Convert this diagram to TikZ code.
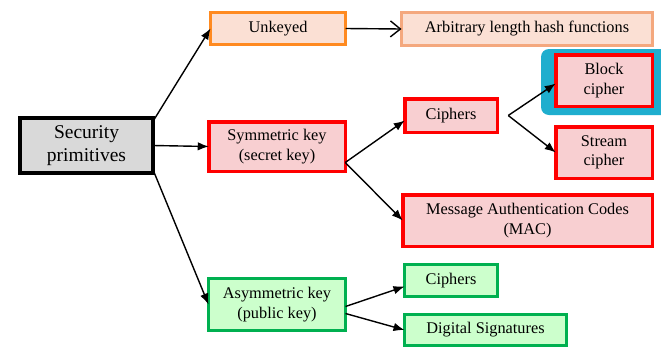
\documentclass[tikz,border=0pt]{standalone}
\usepackage{fontspec}
\setmainfont{Liberation Serif}
\usetikzlibrary{arrows.meta}
\definecolor{cgray}{RGB}{217,217,217}
\definecolor{corange}{RGB}{255,138,32}
\definecolor{corfill}{RGB}{251,224,212}
\definecolor{clorange}{RGB}{244,168,126}
\definecolor{cred}{RGB}{255,0,0}
\definecolor{credfill}{RGB}{248,207,209}
\definecolor{cgreen}{RGB}{0,176,80}
\definecolor{cgrfill}{RGB}{204,255,204}
\definecolor{cblue}{RGB}{31,174,206}
\begin{document}
\begin{tikzpicture}[x=1pt,y=-1pt,
  box/.style={rectangle,inner sep=0pt,outer sep=0pt,align=center,
    font=\rmfamily\fontsize{16.3}{19.5}\selectfont},
  rootbox/.style={box,draw=black,fill=cgray,line width=4pt,
    font=\rmfamily\fontsize{19.5}{23}\selectfont},
  orbox/.style={box,draw=corange,fill=corfill,line width=3pt},
  lorbox/.style={box,draw=clorange,fill=corfill,line width=3pt},
  redbox/.style={box,draw=cred,fill=credfill,line width=3.5pt},
  grbox/.style={box,draw=cgreen,fill=cgrfill,line width=3pt},
  arr/.style={line width=1.4pt,-{Latex[length=11pt,width=8.5pt]}},
  openarr/.style={line width=1.4pt,-{Straight Barb[length=10pt,width=16pt,line width=1.4pt]}}
]
\clip (0,0) rectangle (661,346);
\fill[white] (0,0) rectangle (661,346);
% blue highlight
\fill[cblue,rounded corners=8pt] (541,49) rectangle (675,115);

\node[rootbox,minimum width=133pt,minimum height=55pt] (sp) at (86.5,145.5) {Security\\primitives};
\node[orbox,minimum width=135pt,minimum height=32pt] (unk) at (278,28.5) {Unkeyed};
\node[lorbox,minimum width=251pt,minimum height=33pt] (arb) at (527,29) {Arbitrary length hash functions};
\node[redbox,minimum width=136.5pt,minimum height=49.5pt] (sym) at (277,146.5) {Symmetric key\\(secret key)};
\node[redbox,minimum width=92.5pt,minimum height=33.5pt] (ci) at (451,115.5) {Ciphers};
\node[redbox,minimum width=96.5pt,minimum height=51.5pt] (blk) at (604,80.5) {Block\\cipher};
\node[redbox,minimum width=96.5pt,minimum height=51.5pt] (str) at (604,152.5) {Stream\\cipher};
\node[redbox,minimum width=249.5pt,minimum height=51.5pt] (mac) at (527.5,220.5) {Message Authentication Codes\\(MAC)};
\node[grbox,minimum width=137pt,minimum height=52pt] (asym) at (277,304.5) {Asymmetric key\\(public key)};
\node[grbox,minimum width=93pt,minimum height=32pt] (cig) at (451,280.5) {Ciphers};
\node[grbox,minimum width=162pt,minimum height=31pt] (dig) at (485.5,330) {Digital Signatures};

\coordinate (cisplit) at ([xshift=11pt]ci.east);
\coordinate (symout) at ([yshift=-16pt]sym.east);

\draw[arr] (sp.20) -- (unk.west);
\draw[arr] (sp.east) -- (sym.west);
\draw[arr] (sp.-20) -- (asym.west);
\draw[openarr] (unk.east) -- (arb.west);
\draw[arr] (symout) -- ([yshift=-5pt]ci.west);
\draw[arr] (symout) -- (mac.west);
\draw[arr] (cisplit) -- ([yshift=-3pt]blk.west);
\draw[arr] (cisplit) -- (str.west);
\draw[arr] ([yshift=-2pt]asym.east) -- ([yshift=-6pt]cig.west);
\draw[arr] ([yshift=-9pt]asym.east) -- (dig.west);
\end{tikzpicture}
\end{document}
